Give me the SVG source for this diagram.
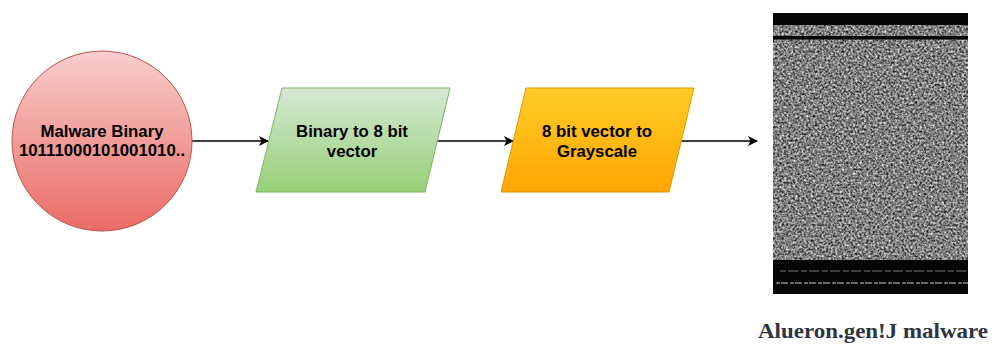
<svg xmlns="http://www.w3.org/2000/svg" width="998" height="345" viewBox="0 0 998 345">
  <style>
    .lbl { font-family: "Liberation Sans", Arial, sans-serif; font-weight: bold; font-size: 16.8px; fill: #000; text-anchor: middle; }
    .edge { stroke: #000; stroke-width: 1.3; fill: none; marker-end: url(#arrow); }
    .caption { font-family: "Liberation Serif", "Times New Roman", serif; font-weight: bold; font-size: 21px; fill: #2f3540; }
  </style>
  <defs>
    <linearGradient id="gRed" x1="0" y1="0" x2="0" y2="1">
      <stop offset="0" stop-color="#f8cecc"/>
      <stop offset="1" stop-color="#ea6b66"/>
    </linearGradient>
    <linearGradient id="gGreen" x1="0" y1="0" x2="0" y2="1">
      <stop offset="0" stop-color="#d5e8d4"/>
      <stop offset="1" stop-color="#97d077"/>
    </linearGradient>
    <linearGradient id="gOrange" x1="0" y1="0" x2="0" y2="1">
      <stop offset="0" stop-color="#ffcd28"/>
      <stop offset="1" stop-color="#ffa500"/>
    </linearGradient>
    <marker id="arrow" viewBox="0 0 10 10" refX="9" refY="5" markerWidth="10" markerHeight="10" markerUnits="userSpaceOnUse" orient="auto">
      <path d="M0,0 L10,5 L0,10 L2.5,5 Z" fill="#000"/>
    </marker>
    <filter id="grain" x="0" y="0" width="1" height="1" filterUnits="objectBoundingBox" color-interpolation-filters="sRGB">
      <feTurbulence type="fractalNoise" baseFrequency="0.45" numOctaves="2" seed="7" result="n"/>
      <feColorMatrix in="n" type="matrix" values="1.25 0 0 0 -0.13  1.25 0 0 0 -0.13  1.25 0 0 0 -0.13  0 0 0 0 1" result="g"/>
      <feGaussianBlur in="g" stdDeviation="0.35"/>
    </filter>
  </defs>

  <!-- connectors -->
  <g id="connectors">
    <line class="edge" x1="192" y1="141" x2="268" y2="141"/>
    <line class="edge" x1="437" y1="141" x2="513" y2="141"/>
    <line class="edge" x1="681" y1="141" x2="757" y2="141"/>
  </g>

  <g id="node-binary">
    <circle cx="102" cy="141" r="90" fill="url(#gRed)" stroke="#b85450" stroke-width="1"/>
    <text class="lbl" x="102" y="137">Malware Binary</text>
    <text class="lbl" x="102" y="156">10111000101001010..</text>
  </g>

  <g id="node-vector">
    <polygon points="282,88 450,88 425,192 256,192" fill="url(#gGreen)" stroke="#82b366" stroke-width="1"/>
    <text class="lbl" x="352" y="137">Binary to 8 bit</text>
    <text class="lbl" x="352" y="157">vector</text>
  </g>

  <g id="node-grayscale">
    <polygon points="526,88 694,88 669,192 501,192" fill="url(#gOrange)" stroke="#d79b00" stroke-width="1"/>
    <text class="lbl" x="597" y="137">8 bit vector to</text>
    <text class="lbl" x="597" y="157">Grayscale</text>
  </g>

  <!-- grayscale rendering of the sample -->
  <g id="node-image">
    <rect x="773" y="13" width="195" height="281" fill="#808080" filter="url(#grain)"/>
    <rect x="773" y="13" width="195" height="12" fill="#050505"/>
    <rect x="773" y="36" width="195" height="3.5" fill="#050505"/>
    <rect x="773" y="260" width="195" height="34" fill="#050505"/>
    <line x1="780" y1="271" x2="968" y2="271" stroke="#7a7a7a" stroke-width="1" stroke-dasharray="6 2 10 3"/>
    <line x1="776" y1="283" x2="968" y2="283" stroke="#8a8a8a" stroke-width="1.4" stroke-dasharray="4 1 7 2"/>
    <text class="caption" x="758" y="338" textLength="230" lengthAdjust="spacingAndGlyphs">Alueron.gen!J malware</text>
  </g>
</svg>
